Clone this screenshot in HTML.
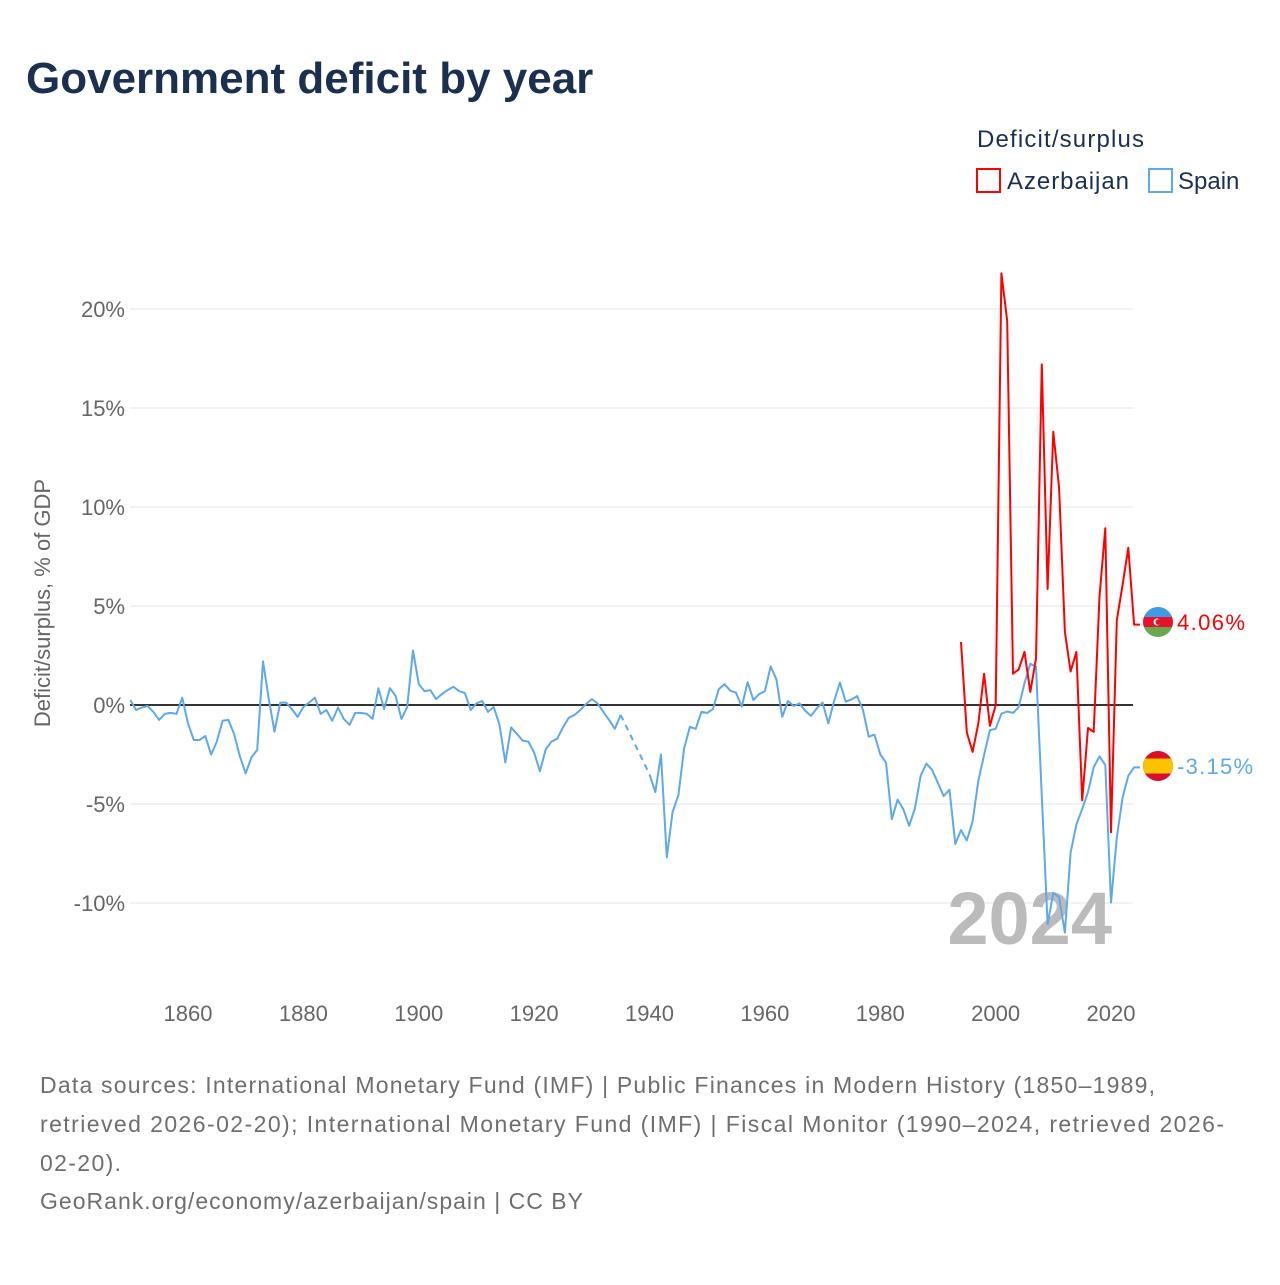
<!DOCTYPE html>
<html><head><meta charset="utf-8">
<style>
body{margin:0;background:#fff;width:1280px;height:1280px;overflow:hidden;font-family:"Liberation Sans",sans-serif}
svg text{font-family:"Liberation Sans",sans-serif}
</style></head>
<body>
<svg width="1280" height="1280" viewBox="0 0 1280 1280">
<text x="26" y="93" font-size="44" font-weight="bold" fill="#1b3050">Government deficit by year</text>
<g>
<text x="977" y="147" font-size="24" fill="#1b3050" textLength="167">Deficit/surplus</text>
<rect x="977" y="169" width="23" height="23" fill="none" stroke="#ff0000" stroke-width="2"/>
<text x="1007" y="189" font-size="24" fill="#1b3050" textLength="122">Azerbaijan</text>
<rect x="1149" y="169" width="23" height="23" fill="none" stroke="#5ea8ec" stroke-width="2"/>
<text x="1178" y="189" font-size="24" fill="#1b3050">Spain</text>
</g>
<text transform="translate(50,603) rotate(-90)" text-anchor="middle" font-size="22" fill="#666">Deficit/surplus, % of GDP</text>
<g id="grid"></g>
<g id="xt"></g>
<text x="1112" y="944" text-anchor="end" font-size="74" font-weight="bold" fill="#bbb">2024</text>
<g id="series"></g>
<g>
<clipPath id="c1"><circle cx="1158" cy="622" r="15"/></clipPath>
<g clip-path="url(#c1)"><rect x="1143" y="607" width="30" height="10" fill="#3f9be8"/><rect x="1143" y="617" width="30" height="10" fill="#e8112d"/><rect x="1143" y="627" width="30" height="10" fill="#6aa84f"/></g>
<circle cx="1157" cy="622" r="3.5" fill="#fff"/><circle cx="1158.3" cy="622" r="2.8" fill="#e8112d"/>
</g>
<g>
<clipPath id="c2"><circle cx="1158" cy="766" r="15"/></clipPath>
<g clip-path="url(#c2)"><rect x="1143" y="751" width="30" height="30" fill="#d8102a"/><rect x="1143" y="758.5" width="30" height="15" fill="#fcc400"/></g>
</g>
<text x="1177" y="630" font-size="22" fill="#ff0000" textLength="68">4.06%</text>
<text x="1177" y="774" font-size="22" fill="#5ea8ec" textLength="76">-3.15%</text>
<g font-size="23" fill="#6e6e6e">
<text x="40" y="1093" textLength="1115">Data sources: International Monetary Fund (IMF) | Public Finances in Modern History (1850–1989,</text>
<text x="40" y="1132" textLength="1184">retrieved 2026-02-20); International Monetary Fund (IMF) | Fiscal Monitor (1990–2024, retrieved 2026-</text>
<text x="40" y="1171" textLength="81">02-20).</text>
<text x="40" y="1209" textLength="543">GeoRank.org/economy/azerbaijan/spain | CC BY</text>
</g>
</svg>
<script>
const yTicks=[-10,-5,0,5,10,15,20];
const xTicks=[1860,1880,1900,1920,1940,1960,1980,2000,2020];
const spainYears1=[];for(let y=1850;y<=1935;y++)spainYears1.push(y);
const spainVals1=[0.25,-0.25,-0.13,-0.05,-0.35,-0.75,-0.45,-0.4,-0.45,0.37,-0.93,-1.77,-1.77,-1.57,-2.5,-1.85,-0.8,-0.75,-1.47,-2.6,-3.45,-2.65,-2.27,2.2,0.3,-1.35,0.12,0.12,-0.2,-0.6,-0.1,0.12,0.37,-0.45,-0.25,-0.8,-0.13,-0.7,-1,-0.4,-0.4,-0.45,-0.7,0.85,-0.2,0.85,0.45,-0.7,-0.1,2.75,1.05,0.7,0.75,0.3,0.55,0.75,0.92,0.7,0.6,-0.25,0.08,0.2,-0.35,-0.1,-1,-2.9,-1.13,-1.45,-1.8,-1.85,-2.4,-3.35,-2.25,-1.85,-1.7,-1.13,-0.65,-0.5,-0.25,0.05,0.3,0.08,-0.35,-0.75,-1.2,-0.5];
const spainYears2=[];for(let y=1940;y<=2024;y++)spainYears2.push(y);
const spainVals2=[-3.5,-4.4,-2.5,-7.7,-5.4,-4.55,-2.2,-1.1,-1.2,-0.35,-0.4,-0.2,0.8,1.05,0.72,0.62,-0.08,1.15,0.25,0.55,0.7,1.95,1.3,-0.6,0.2,-0.05,0.08,-0.3,-0.55,-0.17,0.12,-0.93,0.2,1.13,0.17,0.28,0.45,-0.25,-1.6,-1.5,-2.5,-2.9,-5.77,-4.78,-5.26,-6.1,-5.22,-3.57,-2.96,-3.29,-3.95,-4.6,-4.28,-7.02,-6.32,-6.84,-5.88,-3.84,-2.52,-1.27,-1.2,-0.44,-0.33,-0.4,-0.1,1.1,2.08,1.93,-4.6,-11.07,-9.5,-9.7,-11.5,-7.46,-6.03,-5.26,-4.39,-3.14,-2.59,-3.03,-9.98,-6.69,-4.67,-3.57,-3.15];
const azYears=[];for(let y=1994;y<=2024;y++)azYears.push(y);
const azVals=[3.18,-1.38,-2.37,-0.94,1.58,-1.05,0,21.8,19.4,1.58,1.8,2.68,0.66,2.35,17.2,5.86,13.8,10.96,3.68,1.69,2.68,-4.82,-1.16,-1.36,5.48,8.93,-6.43,4.28,6.07,7.94,4.06];
const X=yr=>130.3+(yr-1850)*5.769;
const Y=v=>705-v*19.8;
const NS='http://www.w3.org/2000/svg';
function mk(t,a,p){const e=document.createElementNS(NS,t);for(const k in a)e.setAttribute(k,a[k]);p.appendChild(e);return e;}
const grid=document.getElementById('grid');
yTicks.forEach(v=>{
 const l=mk('line',{x1:130,x2:1133,y1:Y(v),y2:Y(v),stroke:v===0?'#333':'#e6e6e6','stroke-width':v===0?2:1},grid);
 
 
 const t=mk('text',{x:125,y:Y(v)+8,'text-anchor':'end','font-size':22,fill:'#666'},grid);
 t.textContent=v+'%';
 
 
});
const xt=document.getElementById('xt');
xTicks.forEach(yr=>{
 const t=mk('text',{x:X(yr),y:1021,'text-anchor':'middle','font-size':22,fill:'#666'},xt);
 t.textContent=yr;
 
 
});
const s=document.getElementById('series');
function pts(ys,vs){return ys.map((y,i)=>X(y).toFixed(1)+','+Y(vs[i]).toFixed(1)).join(' ');}
const p1=mk('polyline',{points:pts(spainYears1,spainVals1),fill:'none',stroke:'#5ea8ec','stroke-width':2,'stroke-linejoin':'round'},s);


const lastE=spainYears1.length-1;
const gap=mk('line',{x1:X(spainYears1[lastE]),y1:Y(spainVals1[lastE]),x2:X(spainYears2[0]),y2:Y(spainVals2[0]),stroke:'#5ea8ec','stroke-width':2,'stroke-dasharray':'6,5'},s);


const p2=mk('polyline',{points:pts(spainYears2,spainVals2)+' 1140,'+Y(spainVals2[spainVals2.length-1]).toFixed(1),fill:'none',stroke:'#5ea8ec','stroke-width':2,'stroke-linejoin':'round'},s);


const p3=mk('polyline',{points:pts(azYears,azVals)+' 1140,'+Y(azVals[azVals.length-1]).toFixed(1),fill:'none',stroke:'#ff0000','stroke-width':2,'stroke-linejoin':'round'},s);


</script>
</body></html>
